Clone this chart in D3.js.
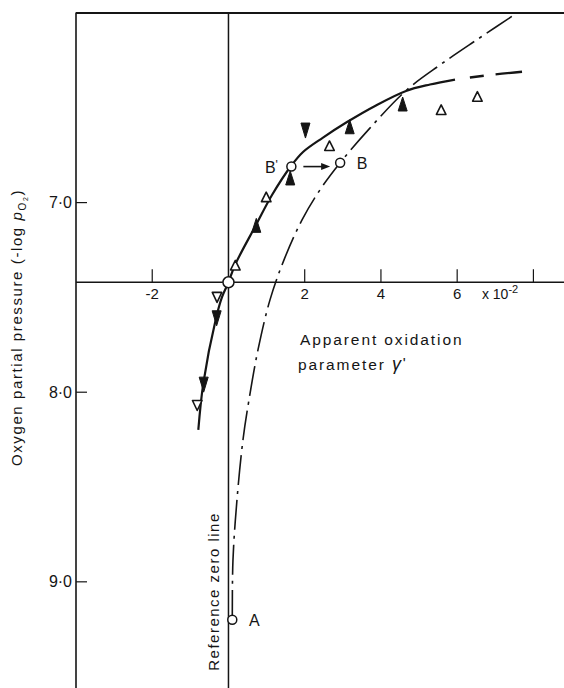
<!DOCTYPE html>
<html>
<head>
<meta charset="utf-8">
<script src="https://cdn.jsdelivr.net/npm/d3@7"></script>
<style>
  html, body { margin: 0; padding: 0; background: #fff; }
  svg { display: block; font-family: "Liberation Sans", "DejaVu Sans", sans-serif; }
</style>
</head>
<body>
<svg id="chart" width="564" height="688"></svg>
<script>
// Oxygen partial pressure (-log pO2) against apparent oxidation parameter γ' (×10⁻²)

const xTicks = [-2, 2, 4, 6, 8];
const xTickLabels = ["-2", "2", "4", "6", ""];
const yTicks = [7, 8, 9];
const yTickLabels = ["7·0", "8·0", "9·0"];
const referenceLevel = 7.42;   // -log pO2 of the reference (origin) point

// measured curve through the reference point
const solidCurve = [
  [-0.791, 8.199], [-0.660, 7.953], [-0.327, 7.610], [-0.170, 7.498], [0, 7.42],
  [0.171, 7.329], [0.722, 7.118], [1.142, 6.960], [1.641, 6.807], [1.956, 6.733],
  [2.480, 6.657], [3.110, 6.575], [3.845, 6.490], [4.658, 6.411], [5.287, 6.377], [5.943, 6.351]
];
// extrapolated continuation of the measured curve
const dashedTail = [[5.943, 6.351], [6.337, 6.340], [6.993, 6.324], [7.701, 6.310]];
// curve through A and B
const dashDotCurve = [
  [0.10, 9.20], [0.118, 8.885], [0.223, 8.568], [0.38, 8.252], [0.538, 8.041],
  [0.774, 7.777], [1.089, 7.513], [1.457, 7.302], [1.93, 7.091], [2.40, 6.933],
  [2.93, 6.79], [3.71, 6.607], [4.676, 6.406], [5.55, 6.274], [6.51, 6.142], [7.69, 5.984]
];

const filledUp = [[1.62, 6.87], [0.73, 7.12], [3.18, 6.60], [4.57, 6.48]];
const filledDown = [[2.02, 6.62], [-0.31, 7.61], [-0.65, 7.96]];
const openUp = [[0.18, 7.33], [0.99, 6.97], [2.65, 6.70], [5.58, 6.51], [6.53, 6.44]];
const openDown = [[-0.30, 7.50], [-0.82, 8.07]];

const pointNames = ["", "B'", "B", "A"];
const pointX = [0, 1.65, 2.93, 0.10];
const pointY = [referenceLevel, 6.81, 6.79, 9.20];

const svg = d3.select("#chart");
const W = 564, H = 688;

const x = d3.scaleLinear().domain([-4, 8.75]).range([76, 562]);
const y = d3.scaleLinear().domain([6.0, 9.56]).range([13, 688]);

const ink = "#151515";

// plotting area clip
svg.append("defs").append("clipPath").attr("id", "plot")
  .append("rect").attr("x", x(-4)).attr("y", y(6.0))
  .attr("width", W - x(-4)).attr("height", H - y(6.0));

// frame: left and top edges
svg.append("line").attr("x1", x(-4)).attr("x2", x(-4)).attr("y1", y(6.0) - 0.5).attr("y2", H)
  .attr("stroke", ink).attr("stroke-width", 1.6);
svg.append("line").attr("x1", x(-4)).attr("x2", W).attr("y1", y(6.0)).attr("y2", y(6.0))
  .attr("stroke", ink).attr("stroke-width", 1.8);

// reference zero line (vertical) and the γ' axis (horizontal)
svg.append("line").attr("x1", x(0)).attr("x2", x(0)).attr("y1", y(6.0)).attr("y2", H)
  .attr("stroke", ink).attr("stroke-width", 1.5);
svg.append("line").attr("x1", x(-4)).attr("x2", W).attr("y1", y(referenceLevel)).attr("y2", y(referenceLevel))
  .attr("stroke", ink).attr("stroke-width", 1.5);

// x ticks (pointing up from the γ' axis)
const xAxis = svg.append("g");
xTicks.forEach((t, i) => {
  xAxis.append("line").attr("x1", x(t)).attr("x2", x(t))
    .attr("y1", y(referenceLevel)).attr("y2", y(referenceLevel) - 13)
    .attr("stroke", ink).attr("stroke-width", 1.2);
  if (xTickLabels[i]) {
    xAxis.append("text").attr("x", x(t)).attr("y", y(referenceLevel) + 17)
      .attr("text-anchor", "middle").attr("font-size", 15).attr("fill", ink)
      .text(xTickLabels[i]);
  }
});
const sci = xAxis.append("text").attr("x", x(6.65)).attr("y", y(referenceLevel) + 17)
  .attr("font-size", 14).attr("fill", ink);
sci.append("tspan").text("x 10");
sci.append("tspan").attr("dy", -6).attr("font-size", 11).text("-2");

// y ticks (pointing right from the left edge)
const yAxis = svg.append("g");
yTicks.forEach((t, i) => {
  yAxis.append("line").attr("x1", x(-4)).attr("x2", x(-4) + 11)
    .attr("y1", y(t)).attr("y2", y(t)).attr("stroke", ink).attr("stroke-width", 1.2);
  yAxis.append("text").attr("x", x(-4) - 4).attr("y", y(t) + 5.5)
    .attr("text-anchor", "end").attr("font-size", 16).attr("fill", ink)
    .text(yTickLabels[i]);
});

// axis titles
const yTitle = svg.append("text")
  .attr("transform", `translate(22, ${(188 + 467) / 2}) rotate(-90)`)
  .attr("text-anchor", "middle").attr("font-size", 15).attr("fill", ink)
  .attr("letter-spacing", 1.6);
yTitle.append("tspan").text("Oxygen partial pressure (-log ");
yTitle.append("tspan").attr("font-style", "italic").text("p");
yTitle.append("tspan").attr("dy", 4).attr("font-size", 10).text("O");
yTitle.append("tspan").attr("dy", 2).attr("font-size", 7).text("2");
yTitle.append("tspan").attr("dy", -6).text(")");

const xTitle = svg.append("g").attr("fill", ink).attr("font-size", 15.5).attr("letter-spacing", 1.9);
xTitle.append("text").attr("x", 300).attr("y", y(referenceLevel) + 63).text("Apparent oxidation");
const xt2 = xTitle.append("text").attr("x", 298).attr("y", y(referenceLevel) + 88);
xt2.append("tspan").text("parameter ");
xt2.append("tspan").attr("font-style", "italic").attr("font-size", 18).text("γ");
xt2.append("tspan").attr("dy", -2).text("'");

svg.append("text")
  .attr("transform", `translate(${x(0) - 9}, ${(510 + 673) / 2}) rotate(-90)`)
  .attr("text-anchor", "middle").attr("font-size", 15).attr("fill", ink)
  .attr("letter-spacing", 1.5)
  .text("Reference zero line");

// curves
const line = d3.line().x(d => x(d[0])).y(d => y(d[1])).curve(d3.curveCatmullRom.alpha(0.5));
const curves = svg.append("g").attr("clip-path", "url(#plot)").attr("fill", "none").attr("stroke", ink);

curves.append("path").attr("d", line(dashDotCurve))
  .attr("stroke-width", 1.6).attr("stroke-dasharray", "30,6,3,6");
curves.append("path").attr("d", line(solidCurve)).attr("stroke-width", 2.2);
curves.append("path").attr("d", line(dashedTail))
  .attr("stroke-width", 2.4).attr("stroke-dasharray", "0,15,14,12,28,40");

// markers
function tri(cx, cy, w, h, up) {
  const s = up ? 1 : -1;
  return `M${cx},${cy - s * h / 2}L${cx + w / 2},${cy + s * h / 2}L${cx - w / 2},${cy + s * h / 2}Z`;
}
const marks = svg.append("g");
marks.selectAll(".fu").data(filledUp).join("path")
  .attr("d", d => tri(x(d[0]), y(d[1]), 9, 14, true)).attr("fill", ink).attr("stroke", ink).attr("stroke-width", 1);
marks.selectAll(".fd").data(filledDown).join("path")
  .attr("d", d => tri(x(d[0]), y(d[1]), 9, 15, false)).attr("fill", ink).attr("stroke", ink).attr("stroke-width", 1);
marks.selectAll(".ou").data(openUp).join("path")
  .attr("d", d => tri(x(d[0]), y(d[1]), 9.5, 9.5, true)).attr("fill", "#fff").attr("stroke", ink)
  .attr("stroke-width", 1.6).attr("stroke-linejoin", "round");
marks.selectAll(".od").data(openDown).join("path")
  .attr("d", d => tri(x(d[0]), y(d[1]), 9.5, 10, false)).attr("fill", "#fff").attr("stroke", ink)
  .attr("stroke-width", 1.6).attr("stroke-linejoin", "round");

// B' → B arrow
const ay = y(pointY[1]);
const ax0 = x(pointX[1]) + 12, ax1 = x(pointX[2]) - 10;
marks.append("line").attr("x1", ax0).attr("x2", ax1 - 6).attr("y1", ay).attr("y2", ay)
  .attr("stroke", ink).attr("stroke-width", 1.6);
marks.append("path").attr("d", `M${ax1},${ay}L${ax1 - 9},${ay - 3.5}L${ax1 - 9},${ay + 3.5}Z`).attr("fill", ink);

// labelled points
const radii = [5.5, 4.5, 4.5, 4.5];
pointX.forEach((px, i) => {
  marks.append("circle").attr("cx", x(px)).attr("cy", y(pointY[i])).attr("r", radii[i])
    .attr("fill", "#fff").attr("stroke", ink).attr("stroke-width", 1.5);
});
const labelDx = [0, -20, 22, 22];
pointNames.forEach((n, i) => {
  if (!n) return;
  const t = marks.append("text").attr("x", x(pointX[i]) + labelDx[i]).attr("y", y(pointY[i]) + 6)
    .attr("text-anchor", "middle").attr("font-size", 16).attr("fill", ink);
  if (n.endsWith("'")) {
    t.append("tspan").text(n.slice(0, -1));
    t.append("tspan").attr("font-size", 12).attr("dy", -4).text("'");
  } else {
    t.text(n);
  }
});
</script>
</body>
</html>
